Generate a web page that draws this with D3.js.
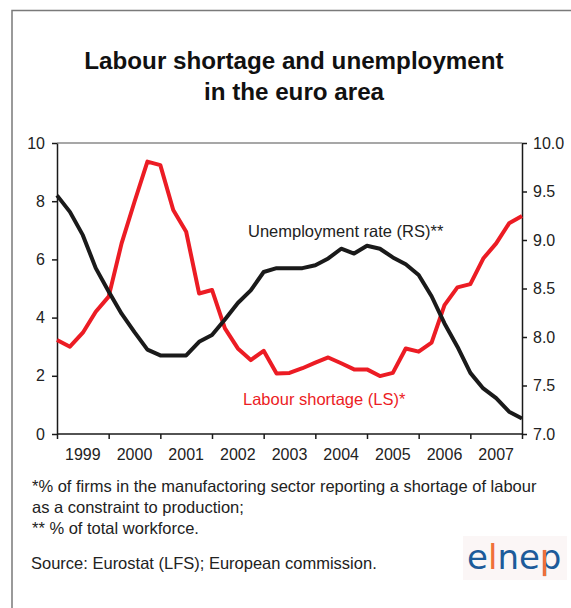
<!DOCTYPE html>
<html>
<head>
<meta charset="utf-8">
<script src="https://cdn.jsdelivr.net/npm/d3@7"></script>
<style>
  html, body { margin: 0; padding: 0; background: #fff; }
  svg { display: block; font-family: "Liberation Sans", Arial, sans-serif; }
</style>
</head>
<body>
<svg id="chart" width="571" height="608"></svg>
<script>
// ---- data ----
const years = ["1999", "2000", "2001", "2002", "2003", "2004", "2005", "2006", "2007"];
const quarters = [
  "1999Q1","1999Q2","1999Q3","1999Q4","2000Q1","2000Q2","2000Q3","2000Q4",
  "2001Q1","2001Q2","2001Q3","2001Q4","2002Q1","2002Q2","2002Q3","2002Q4",
  "2003Q1","2003Q2","2003Q3","2003Q4","2004Q1","2004Q2","2004Q3","2004Q4",
  "2005Q1","2005Q2","2005Q3","2005Q4","2006Q1","2006Q2","2006Q3","2006Q4",
  "2007Q1","2007Q2","2007Q3","2007Q4","2008Q1"
];
// Labour shortage (LS), % of firms — left scale
const labourShortage = [3.23, 3.0, 3.48, 4.2, 4.72, 6.55, 7.98, 9.36, 9.24, 7.7,
  6.95, 4.83, 4.95, 3.63, 2.94, 2.54, 2.86, 2.08, 2.1, 2.26,
  2.45, 2.63, 2.43, 2.22, 2.22, 1.99, 2.1, 2.94, 2.83, 3.14,
  4.43, 5.04, 5.15, 6.03, 6.55, 7.24, 7.49];
// Unemployment rate (RS), % of workforce — right scale
const unemployment = [9.46, 9.29, 9.05, 8.71, 8.47, 8.24, 8.05, 7.87, 7.81, 7.81,
  7.81, 7.95, 8.02, 8.18, 8.35, 8.48, 8.67, 8.71, 8.71, 8.71,
  8.74, 8.81, 8.91, 8.86, 8.94, 8.91, 8.82, 8.75, 8.64, 8.42,
  8.14, 7.9, 7.63, 7.47, 7.37, 7.23, 7.16];
const leftTicks = [0, 2, 4, 6, 8, 10];
const rightTicks = [7.0, 7.5, 8.0, 8.5, 9.0, 9.5, 10.0];
const titleLines = ["Labour shortage and unemployment", "in the euro area"];
const footnotes = [
  "*% of firms in the manufactoring sector reporting a shortage of labour",
  "as a constraint to production;",
  "** % of total workforce."
];
const sourceText = "Source: Eurostat (LFS); European commission.";

// ---- layout ----
const svg = d3.select("#chart");
const plot = { left: 57, right: 522, top: 143, bottom: 434 };
const RED = "#ec1c24", BLACK = "#1a1a1a", TXT = "#222";

// frame (left and top edges)
svg.append("path")
  .attr("d", "M12,608 V10.5 H571")
  .attr("fill", "none").attr("stroke", "#7a7a7a").attr("stroke-width", 1.5);

// title
svg.append("text")
  .attr("x", 294).attr("y", 69)
  .attr("text-anchor", "middle")
  .attr("font-size", 24.2).attr("font-weight", "bold").attr("fill", "#111")
  .selectAll("tspan").data(titleLines).join("tspan")
  .attr("x", 294).attr("dy", (d, i) => i === 0 ? 0 : 31)
  .text(d => d);

// scales
const x = d3.scaleLinear().domain([0, quarters.length - 1]).range([plot.left, plot.right]);
const yL = d3.scaleLinear().domain([0, 10]).range([plot.bottom, plot.top]);
const yR = d3.scaleLinear().domain([7, 10]).range([plot.bottom, plot.top]);
const xBand = d3.scaleBand().domain(years).range([plot.left, plot.right]);

// top border of plot
svg.append("line")
  .attr("x1", plot.left).attr("x2", plot.right)
  .attr("y1", plot.top).attr("y2", plot.top)
  .attr("stroke", "#8a8a8a").attr("stroke-width", 1.5);

function styleAxis(g) {
  g.select(".domain").attr("stroke", BLACK).attr("stroke-width", 1.5);
  g.selectAll(".tick line").attr("stroke", BLACK).attr("stroke-width", 1.5);
  g.selectAll(".tick text").attr("fill", TXT)
    .attr("font-family", "Liberation Sans, Arial, sans-serif").attr("font-size", 16);
}

// left axis
svg.append("g").attr("transform", `translate(${plot.left},0)`)
  .call(d3.axisLeft(yL).tickValues(leftTicks).tickSize(5).tickPadding(7).tickSizeOuter(0).tickFormat(d3.format("d")))
  .call(styleAxis);

// right axis
svg.append("g").attr("transform", `translate(${plot.right},0)`)
  .call(d3.axisRight(yR).tickValues(rightTicks).tickSize(5).tickPadding(6).tickSizeOuter(0).tickFormat(d3.format(".1f")))
  .call(styleAxis);

// bottom axis: tick marks at year boundaries
const boundaries = years.map(y => xBand(y)).concat([plot.right]);
svg.append("g").attr("transform", `translate(0,${plot.bottom})`)
  .call(d3.axisBottom(d3.scaleIdentity()).tickValues(boundaries).tickSize(5).tickSizeOuter(0).tickFormat(""))
  .call(styleAxis)
  .call(g => g.select(".domain").attr("d", `M${plot.left},0H${plot.right}`));
// bottom labels centred in each year
svg.append("g").attr("transform", `translate(0,${plot.bottom})`)
  .call(d3.axisBottom(xBand).tickSize(0).tickPadding(15))
  .call(styleAxis)
  .call(g => g.select(".domain").remove());

// lines
const lineL = d3.line().x((d, i) => x(i)).y(d => yL(d));
const lineR = d3.line().x((d, i) => x(i)).y(d => yR(d));

svg.append("path").datum(labourShortage)
  .attr("d", lineL).attr("fill", "none").attr("stroke", RED)
  .attr("stroke-width", 4).attr("stroke-linejoin", "round");
svg.append("path").datum(unemployment)
  .attr("d", lineR).attr("fill", "none").attr("stroke", BLACK)
  .attr("stroke-width", 4).attr("stroke-linejoin", "round");

// series labels
svg.append("text").attr("x", 248).attr("y", 237)
  .attr("font-size", 16.5).attr("fill", TXT).text("Unemployment rate (RS)**");
svg.append("text").attr("x", 243).attr("y", 405)
  .attr("font-size", 16.5).attr("fill", RED).text("Labour shortage (LS)*");

// footnotes
svg.append("g").selectAll("text").data(footnotes).join("text")
  .attr("x", 32).attr("y", (d, i) => 492 + i * 21)
  .attr("font-size", 16.5).attr("fill", TXT).text(d => d);
svg.append("text").attr("x", 31).attr("y", 569)
  .attr("font-size", 16.5).attr("fill", TXT).text(sourceText);

// logo
const logo = svg.append("g");
logo.append("rect").attr("x", 463).attr("y", 536).attr("width", 104).attr("height", 44).attr("fill", "#fbf6f6");
const LOGO_FS = 34;
const logoText = logo.append("text").attr("x", 467).attr("y", 569)
  .attr("font-size", LOGO_FS).attr("font-family", "DejaVu Sans, sans-serif");
const logoParts = [["e", "#1d5b9a"], ["l", "#f0703a"], ["nep", "#1d5b9a"]];
logoText.selectAll("tspan").data(logoParts).join("tspan")
  .attr("fill", d => d[1]).text(d => d[0]);
// orange stem of the "p"
const pStart = logoText.node().getStartPositionOfChar(4);
logo.append("rect")
  .attr("x", pStart.x + LOGO_FS * 0.095).attr("y", 569 - LOGO_FS * 0.56)
  .attr("width", LOGO_FS * 0.09).attr("height", LOGO_FS * 0.77)
  .attr("fill", "#f0703a");
</script>
</body>
</html>
